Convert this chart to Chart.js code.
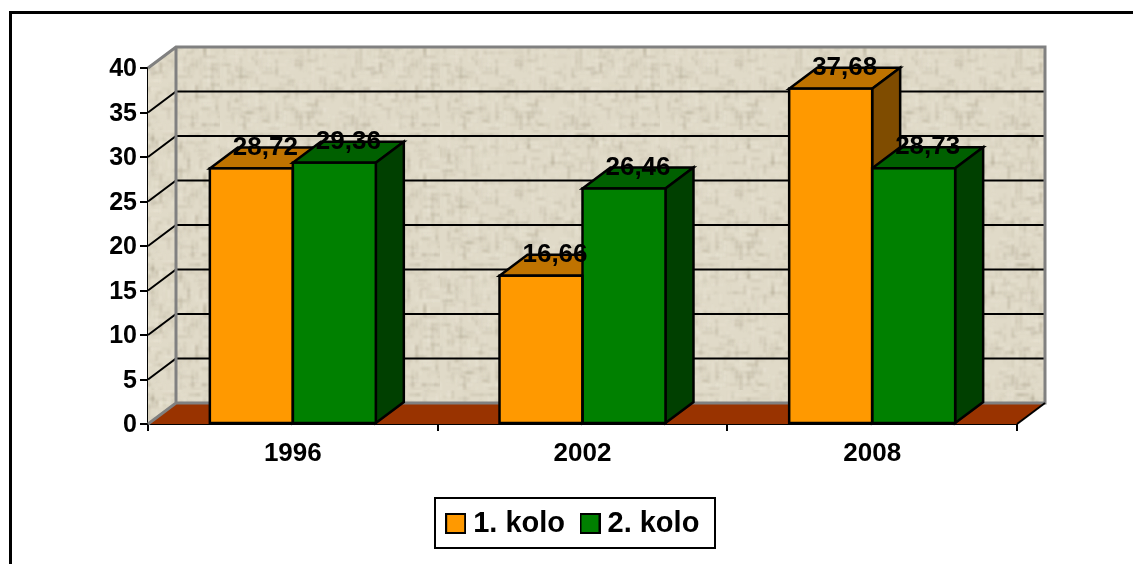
<!DOCTYPE html>
<html><head><meta charset="utf-8">
<style>html,body{margin:0;padding:0;background:#fff;overflow:hidden}#w{position:absolute;left:0;top:0;width:1133px;height:564px}</style>
<script src="https://cdn.jsdelivr.net/npm/chart.js@4"></script>
</head><body><div id="w"><canvas id="c" width="1133" height="564"></canvas></div>
<script>
const categories = ['1996', '2002', '2008'];
const round1 = [28.72, 16.66, 37.68];
const round2 = [29.36, 26.46, 28.73];
const seriesNames = ['1. kolo', '2. kolo'];
const frontColors = ['#ff9900', '#008000'];
const topColors = ['#bf7300', '#006000'];
const sideColors = ['#7f4c00', '#004000'];
const DX = 28, DY = -21;
const FONT = 'Liberation Sans, Arial, sans-serif';

function makeTexture() {
  const t = document.createElement('canvas'); t.width = 220; t.height = 130;
  const g = t.getContext('2d');
  g.fillStyle = '#e0dac8'; g.fillRect(0, 0, 220, 130);
  let s = 12345;
  const r = () => (s = (s * 1103515245 + 12345) & 0x7fffffff) / 0x7fffffff;
  g.filter = 'blur(1.2px)';
  for (let i = 0; i < 1100; i++) {
    const x = r() * 220, y = r() * 130, horiz = r() > 0.5, len = 3 + r() * 10, dark = r() > 0.5;
    g.fillStyle = dark ? `rgba(135,125,100,${0.08 + r() * 0.22})` : `rgba(245,241,228,${0.12 + r() * 0.25})`;
    if (horiz) g.fillRect(x, Math.round(y / 4) * 4, len, 1.4);
    else g.fillRect(Math.round(x / 4) * 4, y, 1.4, len);
  }
  g.filter = 'none';
  return t;
}
function swatch(color) {
  const t = document.createElement('canvas'); t.width = 21; t.height = 21;
  const g = t.getContext('2d');
  g.fillStyle = color; g.fillRect(0, 0, 21, 21);
  g.strokeStyle = '#000'; g.lineWidth = 2; g.strokeRect(1, 1, 19, 19);
  return t;
}
function poly(ctx, pts, fill, stroke, lw) {
  ctx.beginPath();
  pts.forEach((p, i) => i ? ctx.lineTo(p[0], p[1]) : ctx.moveTo(p[0], p[1]));
  ctx.closePath();
  if (fill) { ctx.fillStyle = fill; ctx.fill(); }
  if (stroke) { ctx.strokeStyle = stroke; ctx.lineWidth = lw; ctx.stroke(); }
}
const scene = {
  id: 'scene',
  afterLayout(chart) {
    const l = chart.legend;
    l.left = 416; l.right = 736; l.top = 487; l.bottom = 559;
  },
  beforeDraw(chart) {
    const ctx = chart.ctx;
    ctx.save();
    ctx.strokeStyle = '#000'; ctx.lineWidth = 3; ctx.lineCap = 'butt';
    ctx.beginPath(); ctx.moveTo(10.5, 564); ctx.lineTo(10.5, 12.5); ctx.lineTo(1133, 12.5); ctx.stroke();
    // legend frame
    ctx.fillStyle = '#fff'; ctx.strokeStyle = '#000'; ctx.lineWidth = 2;
    ctx.fillRect(435, 498, 280, 50); ctx.strokeRect(435, 498, 280, 50);
    ctx.restore();
  },
  beforeDatasetsDraw(chart) {
    const ctx = chart.ctx, a = chart.chartArea, y = chart.scales.y;
    const L = a.left, R = a.right, T = a.top, B = a.bottom;
    ctx.save();
    ctx.lineJoin = 'miter';
    const pat = ctx.createPattern(makeTexture(), 'repeat');
    // back and left walls
    poly(ctx, [[L + DX, T + DY], [R + DX, T + DY], [R + DX, B + DY], [L + DX, B + DY]], pat);
    poly(ctx, [[L, T], [L + DX, T + DY], [L + DX, B + DY], [L, B]], pat);
    // floor
    poly(ctx, [[L, B], [L + DX, B + DY], [R + DX, B + DY], [R, B]], '#993300');
    // grid on walls
    ctx.strokeStyle = '#000'; ctx.lineWidth = 2;
    y.ticks.forEach(t => {
      if (t.value === y.min || t.value === y.max) return;
      const p = y.getPixelForValue(t.value);
      ctx.beginPath(); ctx.moveTo(L, p); ctx.lineTo(L + DX, p + DY); ctx.lineTo(R + DX, p + DY); ctx.stroke();
    });
    // wall edges
    ctx.strokeStyle = '#808080'; ctx.lineWidth = 3;
    ctx.beginPath();
    ctx.moveTo(L, T); ctx.lineTo(L + DX, T + DY); ctx.lineTo(R + DX, T + DY); ctx.lineTo(R + DX, B + DY);
    ctx.lineTo(L + DX, B + DY); ctx.lineTo(L, B);
    ctx.moveTo(L + DX, T + DY); ctx.lineTo(L + DX, B + DY);
    ctx.stroke();
    ctx.strokeStyle = '#000'; ctx.lineWidth = 2;
    ctx.beginPath(); ctx.moveTo(R, B); ctx.lineTo(R + DX, B + DY); ctx.stroke();
    // depth faces of the bars
    chart.data.datasets.forEach((ds, di) => {
      chart.getDatasetMeta(di).data.forEach(bar => {
        const hw = bar.width / 2, x1 = bar.x - hw, x2 = bar.x + hw, top = bar.y, base = bar.base;
        poly(ctx, [[x1, top], [x1 + DX, top + DY], [x2 + DX, top + DY], [x2, top]], topColors[di], '#000', 2.5);
        poly(ctx, [[x2, top], [x2 + DX, top + DY], [x2 + DX, base + DY], [x2, base]], sideColors[di], '#000', 2.5);
      });
    });
    ctx.restore();
  },
  afterDatasetsDraw(chart) {
    const ctx = chart.ctx;
    ctx.save();
    ctx.strokeStyle = '#000'; ctx.lineWidth = 2.5;
    chart.data.datasets.forEach((ds, di) => {
      chart.getDatasetMeta(di).data.forEach(bar => {
        ctx.strokeRect(bar.x - bar.width / 2, bar.y, bar.width, bar.base - bar.y);
      });
    });
    ctx.fillStyle = '#000'; ctx.textAlign = 'center'; ctx.textBaseline = 'middle';
    ctx.font = 'bold 26px ' + FONT;
    chart.data.datasets.forEach((ds, di) => {
      chart.getDatasetMeta(di).data.forEach((bar, i) => {
        ctx.fillText(ds.data[i].toFixed(2).replace('.', ','), bar.x + DX / 2, bar.y + DY);
      });
    });
    ctx.restore();
  }
};
new Chart(document.getElementById('c'), {
  type: 'bar',
  data: {
    labels: categories,
    datasets: [
      { label: seriesNames[0], data: round1, backgroundColor: frontColors[0], borderWidth: 0 },
      { label: seriesNames[1], data: round2, backgroundColor: frontColors[1], borderWidth: 0 }
    ]
  },
  plugins: [scene],
  options: {
    responsive: false, animation: false,
    layout: { padding: { left: 0, right: 116, top: 68, bottom: 39 } },
    categoryPercentage: 0.573, barPercentage: 1,
    plugins: {
      tooltip: { enabled: false },
      legend: {
        position: 'bottom',
        labels: {
          usePointStyle: true, pointStyleWidth: 6, boxHeight: 20, padding: 22, color: '#000',
          font: { family: FONT, size: 29, weight: 'bold' },
          generateLabels: c => c.data.datasets.map((d, i) => ({
            text: d.label, datasetIndex: i, pointStyle: swatch(frontColors[i]), fillStyle: frontColors[i], lineWidth: 0, hidden: false
          }))
        }
      }
    },
    scales: {
      x: {
        afterFit: s => { s.height = 40; },
        border: { color: '#000', width: 2 },
        grid: { drawOnChartArea: false, color: '#000', tickColor: '#000', tickLength: 7, lineWidth: 2, offset: true },
        ticks: { color: '#000', font: { family: FONT, size: 26, weight: 'bold' }, padding: 7, maxRotation: 0 }
      },
      y: {
        min: 0, max: 40,
        afterFit: s => { s.width = 148; },
        border: { color: '#000', width: 2 },
        grid: { drawOnChartArea: false, color: '#000', tickColor: '#000', tickLength: 8, lineWidth: 2 },
        ticks: { stepSize: 5, color: '#000', font: { family: FONT, size: 25, weight: 'bold' }, padding: 3, labelOffset: 1.5 }
      }
    }
  }
});
</script></body></html>
